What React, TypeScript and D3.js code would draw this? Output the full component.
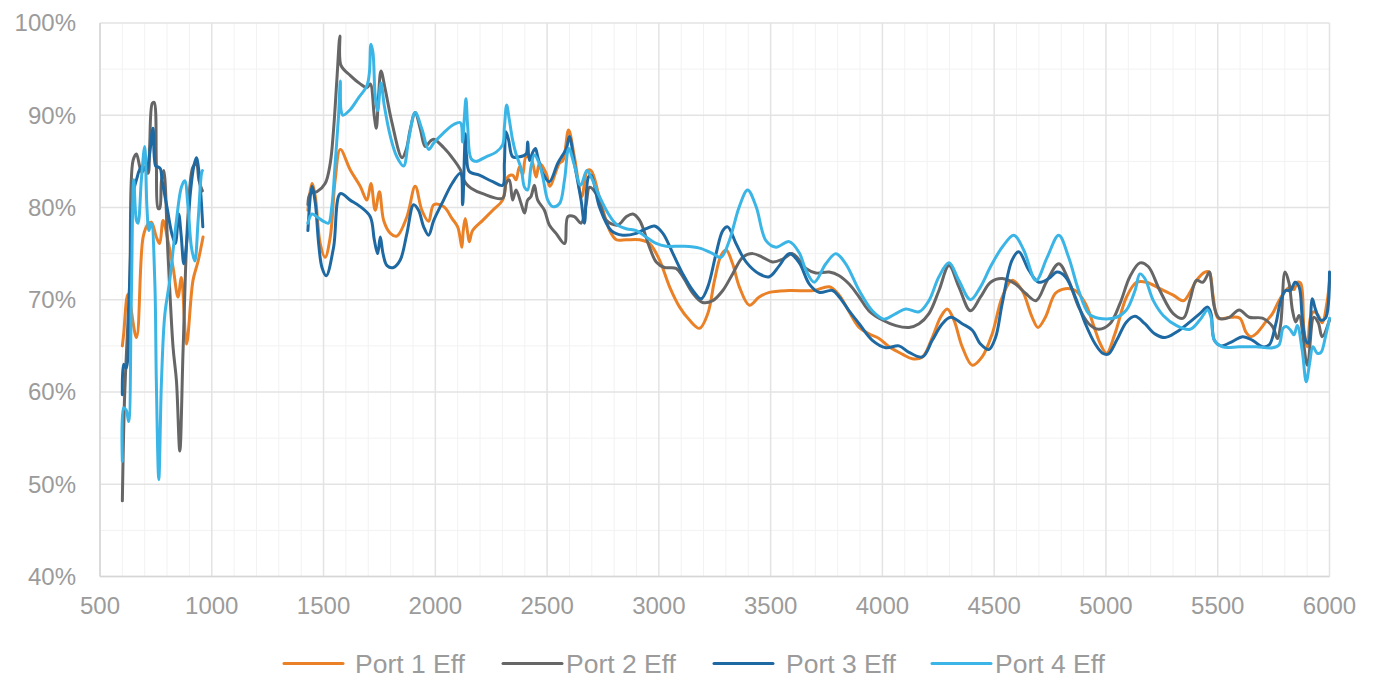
import React from "react";
import * as d3 from "d3";

// ---------- data ----------
const seriesNames = ["Port 1 Eff", "Port 2 Eff", "Port 3 Eff", "Port 4 Eff"];
const seriesColors = ["#EA8127", "#666666", "#1F69A3", "#3BB5E6"];

const xTicks = [500, 1000, 1500, 2000, 2500, 3000, 3500, 4000, 4500, 5000, 5500, 6000];
const yTicks = [0.4, 0.5, 0.6, 0.7, 0.8, 0.9, 1.0];

// Port 1 (null = gap between bands)
const p1Freq = [600, 606, 625, 663, 693, 715, 730, 752, 767, 782, 804, 827, 849, 864, 887, 916, 939, 961,
  1200,
  1430, 1448, 1463, 1485, 1507, 1530, 1552, 1575, 1619, 1664, 1694, 1712, 1731, 1750, 1769, 1799, 1828, 1873, 1910, 1940, 1970, 1993, 2037, 2075, 2100, 2115, 2119, 2125, 2134, 2145, 2152, 2167, 2212, 2257, 2301, 2324, 2346, 2361, 2376, 2391, 2406, 2428, 2451, 2466, 2496, 2512, 2555, 2571, 2596, 2622, 2655, 2680, 2697, 2735, 2780, 2810, 2854, 2914, 2958, 3003, 3048, 3093, 3137, 3182, 3219, 3249, 3278, 3301, 3330, 3360, 3405, 3449, 3494, 3583, 3695, 3762, 3807, 3851, 3896, 3940, 3985, 4030, 4089, 4134, 4179, 4223, 4260, 4290, 4320, 4357, 4402, 4446, 4491, 4536, 4580, 4625, 4670, 4696, 4729, 4774, 4818, 4863, 4908, 4952, 4975, 5003, 5040, 5092, 5137, 5182, 5241, 5301, 5346, 5376, 5405, 5443, 5462, 5480, 5502, 5555, 5599, 5626, 5648, 5671, 5715, 5745, 5774, 5804, 5826, 5841, 5856, 5871, 5886, 5901, 5915, 5930, 5950, 5967, 5990, 6000];
const p1Eff = [65.0, 66.3, 70.6, 65.9, 76.8, 78.2, 78.4, 76.8, 76.1, 78.6, 76.4, 73.5, 70.3, 72.4, 65.2, 72.1, 74.2, 76.8,
  null,
  79.7, 82.6, 81.2, 76.1, 74.6, 76.8, 83.0, 86.3, 84.1, 82.3, 80.8, 82.6, 79.7, 81.7, 78.6, 77.2, 76.9, 79.0, 82.3, 79.7, 78.5, 80.3, 80.1, 78.8, 77.9, 76.1, 75.7, 77.5, 78.8, 77.2, 76.3, 77.5, 78.6, 79.7, 80.8, 83.3, 83.5, 83.0, 84.4, 83.6, 85.5, 85.3, 83.3, 84.8, 83.7, 82.3, 84.8, 85.1, 88.4, 85.5, 81.2, 84.0, 84.0, 81.0, 77.5, 76.5, 76.5, 76.5, 76.1, 74.3, 71.4, 69.2, 67.8, 66.9, 68.5, 72.1, 74.8, 75.4, 73.9, 71.4, 69.4, 70.3, 70.8, 71.0, 71.0, 71.4, 70.5, 68.7, 67.0, 66.3, 65.8, 64.9, 64.1, 63.6, 63.8, 65.9, 68.1, 69.0, 67.8, 64.9, 62.9, 63.8, 66.3, 70.3, 72.1, 71.0, 68.1, 67.0, 68.1, 70.7, 71.2, 71.0, 69.6, 66.7, 65.2, 64.2, 66.3, 70.3, 71.9, 71.9, 71.2, 70.5, 69.9, 70.8, 72.1, 73.0, 73.0, 70.3, 68.0, 68.1, 68.0, 66.5, 66.0, 66.3, 67.6, 68.5, 69.9, 71.0, 71.4, 71.1, 71.9, 71.8, 66.7, 64.9, 68.1, 68.7, 68.3, 67.5, 69.9, 72.1];

// Port 2
const p2Freq = [600, 610, 633, 648, 663, 678, 688, 700, 715, 722, 734, 742, 752, 760, 767, 775, 785, 804, 827, 842, 857, 872, 894, 916, 931, 943, 958,
  1200,
  1430, 1440, 1470, 1507, 1530, 1545, 1560, 1573, 1578, 1620, 1664, 1694, 1709, 1727, 1736, 1746, 1757, 1776, 1806, 1851, 1870, 1888, 1910, 1933, 1955, 1978, 1993, 2037, 2082, 2112, 2122, 2137, 2160, 2212, 2301, 2316, 2331, 2346, 2361, 2384, 2399, 2413, 2428, 2443, 2458, 2488, 2510, 2540, 2578, 2593, 2622, 2652, 2675, 2690, 2727, 2765, 2817, 2854, 2884, 2914, 2958, 2988, 3025, 3077, 3107, 3152, 3196, 3241, 3286, 3330, 3375, 3420, 3464, 3509, 3554, 3598, 3658, 3702, 3762, 3807, 3851, 3896, 3940, 4000, 4060, 4119, 4164, 4208, 4253, 4298, 4342, 4394, 4439, 4484, 4536, 4595, 4640, 4687, 4737, 4789, 4833, 4878, 4923, 4967, 5018, 5063, 5107, 5152, 5189, 5241, 5301, 5346, 5376, 5405, 5433, 5463, 5470, 5485, 5507, 5552, 5596, 5641, 5700, 5745, 5767, 5782, 5801, 5819, 5834, 5849, 5864, 5901, 5930, 5950, 5967, 6000];
const p2Eff = [48.2, 59.4, 72.1, 85.1, 85.8, 84.4, 83.8, 84.4, 83.7, 86.6, 91.3, 91.4, 84.7, 79.9, 79.9, 82.9, 84.0, 75.0, 64.8, 61.2, 53.6, 64.8, 79.3, 84.4, 84.7, 82.9, 81.8,
  null,
  80.3, 81.5, 81.7, 82.6, 84.8, 88.5, 94.0, 98.6, 95.4, 94.3, 93.4, 93.0, 93.4, 89.9, 88.6, 92.1, 94.8, 92.8, 89.2, 85.4, 86.3, 88.5, 90.3, 88.5, 86.6, 87.2, 87.4, 86.5, 85.2, 84.1, 83.3, 82.6, 82.1, 81.5, 81.0, 82.6, 83.0, 80.8, 81.9, 80.4, 79.4, 80.8, 81.2, 82.4, 80.8, 79.7, 78.1, 77.2, 76.1, 79.0, 79.0, 78.3, 80.4, 82.2, 81.2, 78.6, 78.1, 79.0, 79.3, 78.6, 75.7, 74.1, 73.5, 73.4, 72.5, 70.7, 69.7, 69.9, 71.0, 72.8, 74.6, 75.0, 74.6, 74.1, 74.4, 75.0, 73.4, 72.9, 73.0, 72.6, 71.7, 70.3, 68.8, 67.8, 67.2, 67.0, 67.4, 68.5, 71.0, 73.7, 71.4, 68.8, 70.3, 71.9, 72.3, 71.7, 70.7, 69.9, 72.1, 73.9, 72.1, 69.2, 67.4, 66.8, 67.4, 69.6, 72.5, 74.0, 73.6, 71.0, 68.5, 68.0, 70.0, 72.1, 71.9, 73.0, 72.1, 69.2, 68.0, 68.1, 68.9, 68.1, 68.0, 67.1, 65.8, 67.4, 73.0, 71.8, 68.9, 67.6, 68.3, 62.9, 68.1, 67.5, 66.0, 67.8];

// Port 3
const p3Freq = [600, 606, 617, 633, 648, 663, 685, 707, 722, 737, 749, 760, 770, 778, 800, 822, 837, 852, 863, 875, 890, 904, 919, 931, 942, 960,
  1200,
  1430, 1448, 1463, 1478, 1493, 1512, 1545, 1575, 1619, 1664, 1709, 1727, 1742, 1754, 1766, 1784, 1813, 1843, 1873, 1903, 1925, 1948, 1970, 1993, 2037, 2075, 2112, 2122, 2130, 2134, 2140, 2152, 2197, 2257, 2301, 2309, 2316, 2328, 2346, 2376, 2406, 2413, 2421, 2436, 2448, 2458, 2481, 2510, 2548, 2586, 2600, 2622, 2652, 2667, 2685, 2697, 2735, 2787, 2839, 2899, 2943, 2981, 3018, 3063, 3107, 3152, 3189, 3219, 3256, 3286, 3308, 3345, 3390, 3449, 3494, 3539, 3583, 3628, 3673, 3717, 3777, 3807, 3851, 3896, 3955, 4015, 4074, 4119, 4179, 4223, 4268, 4305, 4357, 4402, 4439, 4476, 4506, 4536, 4580, 4610, 4655, 4699, 4744, 4781, 4818, 4863, 4908, 4952, 4985, 5010, 5048, 5092, 5130, 5174, 5219, 5264, 5316, 5376, 5420, 5455, 5470, 5485, 5515, 5567, 5611, 5656, 5700, 5730, 5760, 5782, 5804, 5826, 5846, 5864, 5878, 5893, 5905, 5923, 5938, 5960, 5982, 6000];
const p3Eff = [59.7, 63.0, 62.6, 72.0, 81.5, 83.0, 84.4, 84.0, 85.8, 88.6, 84.5, 84.4, 84.2, 82.9, 80.0, 77.1, 76.1, 79.3, 77.0, 73.9, 76.8, 81.5, 84.4, 85.4, 84.0, 77.9,
  null,
  77.5, 82.3, 80.5, 76.1, 73.5, 72.6, 75.7, 81.5, 80.8, 80.1, 79.0, 76.5, 75.0, 76.8, 75.0, 73.7, 73.5, 74.3, 77.2, 80.3, 79.7, 77.9, 77.0, 78.6, 80.8, 82.6, 83.7, 80.3, 85.5, 88.0, 85.5, 83.9, 83.5, 82.8, 82.4, 84.8, 88.2, 87.3, 85.5, 85.5, 85.8, 87.1, 85.1, 86.0, 86.4, 85.5, 83.7, 82.8, 84.8, 86.4, 87.7, 84.8, 80.8, 78.3, 83.3, 83.5, 80.0, 77.5, 77.0, 77.2, 77.7, 78.0, 77.2, 75.0, 72.8, 71.0, 70.1, 71.4, 75.0, 77.5, 77.9, 76.1, 74.1, 72.8, 72.5, 73.7, 75.0, 74.0, 71.7, 70.8, 71.0, 70.3, 68.8, 67.4, 65.6, 64.8, 65.0, 64.3, 63.8, 65.6, 67.4, 68.1, 67.4, 66.7, 65.2, 64.6, 65.9, 69.6, 74.3, 75.2, 73.2, 71.9, 72.3, 73.0, 72.5, 70.3, 67.4, 65.2, 64.2, 64.1, 65.6, 67.6, 68.2, 67.4, 66.3, 65.9, 66.5, 67.6, 68.5, 69.2, 68.5, 65.6, 65.0, 65.5, 66.0, 65.6, 64.9, 65.1, 67.4, 69.9, 71.0, 71.0, 71.9, 71.4, 68.1, 65.6, 65.3, 70.1, 68.9, 67.8, 68.0, 73.0];

// Port 4
const p4Freq = [600, 606, 618, 628, 640, 651, 663, 670, 685, 700, 710, 719, 730, 745, 752, 763, 775, 790, 812, 842, 864, 879, 894, 909, 924, 939, 954, 958,
  1200,
  1430, 1448, 1470, 1500, 1522, 1537, 1552, 1567, 1575, 1578, 1587, 1619, 1657, 1694, 1705, 1712, 1721, 1731, 1742, 1757, 1772, 1799, 1828, 1858, 1881, 1910, 1940, 1970, 1993, 2037, 2082, 2112, 2122, 2130, 2137, 2145, 2160, 2182, 2227, 2272, 2301, 2309, 2319, 2331, 2346, 2361, 2384, 2399, 2413, 2428, 2443, 2463, 2481, 2503, 2525, 2555, 2578, 2597, 2622, 2650, 2678, 2697, 2734, 2772, 2809, 2854, 2899, 2943, 2988, 3033, 3107, 3182, 3241, 3278, 3315, 3360, 3397, 3435, 3479, 3524, 3583, 3628, 3658, 3695, 3747, 3792, 3836, 3896, 3955, 4007, 4060, 4104, 4164, 4208, 4253, 4298, 4342, 4394, 4439, 4484, 4536, 4588, 4632, 4687, 4737, 4789, 4833, 4878, 4923, 4967, 5048, 5092, 5130, 5152, 5174, 5212, 5256, 5316, 5376, 5420, 5455, 5470, 5485, 5522, 5596, 5671, 5745, 5774, 5792, 5807, 5826, 5841, 5856, 5878, 5896, 5911, 5926, 5945, 5962, 5982, 6000];
const p4Eff = [52.5, 58.3, 58.0, 56.8, 70.0, 83.0, 78.6, 78.3, 83.0, 86.6, 80.0, 77.5, 78.3, 72.1, 61.2, 50.5, 61.2, 68.4, 72.1, 78.6, 82.2, 82.9, 80.0, 75.7, 74.2, 78.6, 83.7, 84.0,
  null,
  78.3, 79.3, 79.0, 78.5, 78.3, 80.1, 84.8, 89.9, 93.7, 90.6, 90.0, 90.6, 91.9, 93.2, 94.6, 97.7, 96.8, 92.1, 90.5, 93.5, 91.0, 87.7, 85.5, 84.5, 87.4, 90.3, 88.5, 86.3, 87.0, 88.1, 89.0, 89.2, 87.1, 89.8, 91.8, 88.7, 85.3, 85.0, 85.5, 86.0, 86.8, 88.7, 91.1, 89.5, 87.3, 85.8, 84.2, 82.2, 81.9, 84.4, 85.7, 84.9, 83.3, 80.8, 80.1, 80.4, 83.0, 86.4, 84.6, 82.4, 84.0, 83.3, 81.2, 79.4, 78.2, 77.7, 77.5, 76.8, 76.1, 75.8, 75.8, 75.6, 75.0, 74.6, 76.4, 80.1, 81.9, 80.1, 76.4, 75.7, 76.3, 75.1, 73.2, 71.9, 73.9, 75.0, 73.9, 71.0, 68.8, 67.9, 68.5, 69.0, 68.7, 69.9, 72.5, 74.0, 72.1, 70.0, 71.4, 73.6, 75.7, 77.0, 75.4, 72.1, 74.6, 77.0, 74.6, 71.0, 68.5, 68.0, 68.1, 68.9, 71.0, 72.8, 72.3, 69.9, 68.3, 67.2, 66.8, 67.8, 68.9, 68.1, 65.6, 64.9, 64.9, 64.9, 64.8, 65.1, 66.9, 67.1, 66.7, 66.2, 67.2, 64.5, 61.1, 63.1, 64.9, 64.2, 64.3, 66.0, 68.0];

const seriesFreq = [p1Freq, p2Freq, p3Freq, p4Freq];
const seriesEff = [p1Eff, p2Eff, p3Eff, p4Eff];

// ---------- layout ----------
const W = 1376;
const H = 677;
const plot = { left: 100, right: 1329.5, top: 23, bottom: 576.5 };
const FONT = "'Liberation Sans', Arial, sans-serif";
const LABEL = "#9B9B9B";

export default function App() {
  const x = d3.scaleLinear().domain([500, 6000]).range([plot.left, plot.right]);
  const y = d3.scaleLinear().domain([0.4, 1.0]).range([plot.bottom, plot.top]);

  const minorX = d3.range(500, 6001, 100).filter((v) => v % 500 !== 0);
  const minorY = d3.range(0.45, 1.0, 0.1);

  type Pt = { f: number; v: number | null };
  const line = d3
    .line<Pt>()
    .defined((d) => d.v !== null)
    .x((d) => x(d.f))
    .y((d) => y((d.v as number) / 100))
    .curve(d3.curveCatmullRom.alpha(0.5));

  const legendItems = [
    { lineX: 284, textX: 355 },
    { lineX: 503, textX: 566 },
    { lineX: 714, textX: 786 },
    { lineX: 932, textX: 995 },
  ];

  return (
    <svg
      width={W}
      height={H}
      style={{ position: "absolute", left: 0, top: 0, background: "#fff" }}
      fontFamily={FONT}
    >
      {/* minor grid */}
      <g stroke="#F2F2F2" strokeWidth={1}>
        {minorX.map((v) => (
          <line key={"mx" + v} x1={x(v)} x2={x(v)} y1={plot.top} y2={plot.bottom} />
        ))}
        {minorY.map((v, i) => (
          <line key={"my" + i} x1={plot.left} x2={plot.right} y1={y(v)} y2={y(v)} />
        ))}
      </g>
      {/* major grid */}
      <g stroke="#E3E3E3" strokeWidth={1.5}>
        {xTicks.map((v) => (
          <line key={"gx" + v} x1={x(v)} x2={x(v)} y1={plot.top} y2={plot.bottom} />
        ))}
        {yTicks.map((v, i) => (
          <line key={"gy" + i} x1={plot.left} x2={plot.right} y1={y(v)} y2={y(v)} />
        ))}
      </g>
      {/* axes */}
      <g stroke="#D6D6D6" strokeWidth={1.5}>
        <line x1={plot.left} x2={plot.left} y1={plot.top} y2={plot.bottom} />
        <line x1={plot.left} x2={plot.right} y1={plot.bottom} y2={plot.bottom} />
      </g>

      {/* series */}
      <g fill="none" strokeWidth={3} strokeLinejoin="round" strokeLinecap="round">
        {seriesFreq.map((fr, si) => {
          const pts: Pt[] = fr.map((f, i) => ({ f, v: seriesEff[si][i] }));
          return <path key={si} d={line(pts) || ""} stroke={seriesColors[si]} />;
        })}
      </g>

      {/* y tick labels */}
      <g fill={LABEL} fontSize={24} textAnchor="end">
        {yTicks.map((v, i) => (
          <text key={"yl" + i} x={76} y={y(v)} dy="0.35em">
            {d3.format(".0%")(v)}
          </text>
        ))}
      </g>
      {/* x tick labels */}
      <g fill={LABEL} fontSize={24} textAnchor="middle">
        {xTicks.map((v) => (
          <text key={"xl" + v} x={x(v)} y={614}>
            {v}
          </text>
        ))}
      </g>

      {/* legend */}
      <g fontSize={26.5} fill={LABEL}>
        {seriesNames.map((name, i) => (
          <g key={name}>
            <line
              x1={legendItems[i].lineX}
              x2={legendItems[i].lineX + 59}
              y1={663.5}
              y2={663.5}
              stroke={seriesColors[i]}
              strokeWidth={3}
              strokeLinecap="round"
            />
            <text x={legendItems[i].textX} y={672.5}>
              {name}
            </text>
          </g>
        ))}
      </g>
    </svg>
  );
}
